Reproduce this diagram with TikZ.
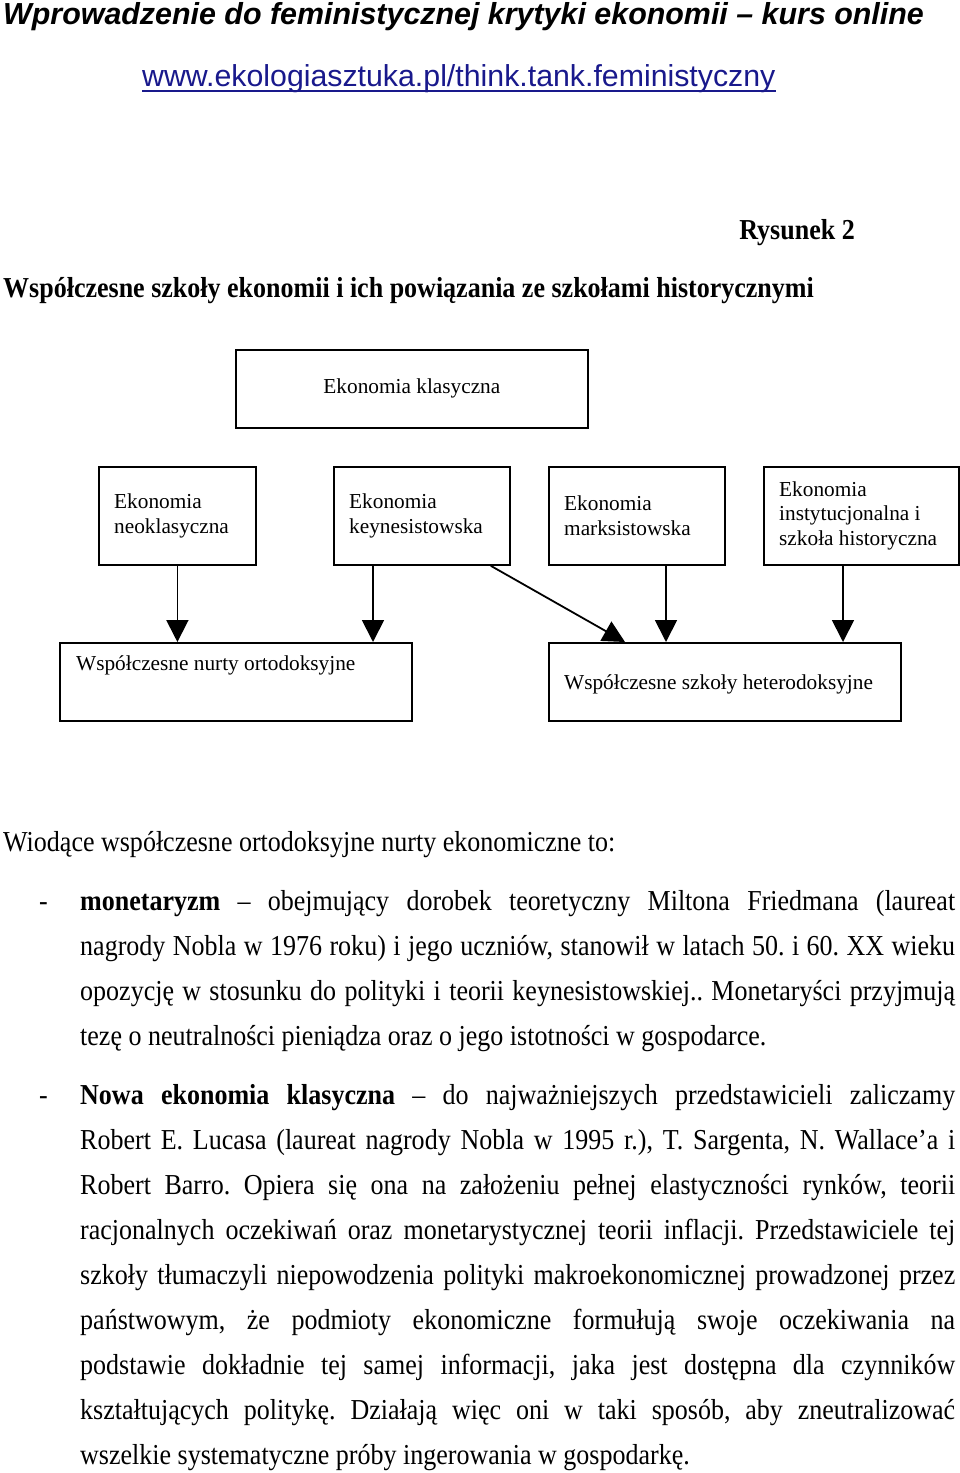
\documentclass[tikz,border=0pt]{standalone}
\usepackage{fontspec}
\setmainfont{Liberation Serif}
\newfontfamily\bodyfont[FakeStretch=0.9]{Liberation Serif}
\newfontfamily\headfont{Liberation Sans}
\usetikzlibrary{arrows.meta,calc}
\definecolor{urlblue}{RGB}{25,25,140}
\frenchspacing
\newcommand\jline[1]{\makebox[875pt][s]{#1}}
\tikzset{
  box/.style={draw, line width=1.8pt, inner sep=0pt, anchor=north west},
  boxtext/.style={font=\fontsize{21.3}{25}\selectfont, inner sep=0pt, align=left},
  arr/.style={line width=1.8pt, -{Triangle[length=22pt,width=22pt]}},
  body/.style={font=\bodyfont\frenchspacing\fontsize{28.9}{45}\selectfont, inner sep=0pt, anchor=base west},
  head/.style={font=\headfont\fontsize{30.3}{36}\selectfont, inner sep=0pt, anchor=base west},
}
\begin{document}
\begin{tikzpicture}[x=1pt,y=-1pt]
\useasboundingbox (0,0) rectangle (960,1473);
\fill[white] (0,0) rectangle (960,1473);

% header
\node[head, font=\headfont\bfseries\itshape\fontsize{30.4}{36}\selectfont] (title) at (3,24)
  {Wprowadzenie do feministycznej krytyki ekonomii – kurs online};
\node[head, text=urlblue] (url) at (142,86) {www.ekologiasztuka.pl/think.tank.feministyczny};
\draw[urlblue, line width=1.8pt] ($(url.base west)+(0,5)$) -- ($(url.base east)+(0,5)$);

\node[body, anchor=base east, font=\bodyfont\bfseries\fontsize{28.9}{34}\selectfont] (rys) at (855,239) {Rysunek 2};
\node[body, font=\bodyfont\bfseries\fontsize{28.9}{34}\selectfont] (sub) at (3,297)
  {Współczesne szkoły ekonomii i ich powiązania ze szkołami historycznymi};

% diagram
\node[box, minimum width=352pt, minimum height=78pt, font=\fontsize{21.3}{25}\selectfont] (klas) at (235,349) {Ekonomia klasyczna};

\node[box, minimum width=157pt, minimum height=98pt] (neo) at (98,466) {};
\node[boxtext, anchor=west] (neotxt) at ($(neo.west)+(16,0)$) {Ekonomia\\neoklasyczna};

\node[box, minimum width=176pt, minimum height=98pt] (keyn) at (333,466) {};
\node[boxtext, anchor=west] (keyntxt) at ($(keyn.west)+(16,0)$) {Ekonomia\\keynesistowska};

\node[box, minimum width=176pt, minimum height=98pt] (marks) at (548,466) {};
\node[boxtext, anchor=west] (markstxt) at ($(marks.west)+(16,0)$) {Ekonomia\\marksistowska};

\node[box, minimum width=195pt, minimum height=98pt] (inst) at (763,466) {};
\node[boxtext, anchor=west] (insttxt) at ($(inst.west)+(16,0)$) {Ekonomia\\instytucjonalna i\\szkoła historyczna};

\node[box, minimum width=352pt, minimum height=78pt] (orto) at (59,642) {};
\node[boxtext, anchor=base west] (ortotxt) at ($(orto.north west)+(17,28)$) {Współczesne nurty ortodoksyjne};

\node[box, minimum width=352pt, minimum height=78pt] (het) at (548,642) {};
\node[boxtext, anchor=west] (hettxt) at ($(het.west)+(16,2)$) {Współczesne szkoły heterodoksyjne};

\coordinate (xk) at (373,0);
\coordinate (xm) at (666,0);
\coordinate (xi) at (843,0);
\draw[arr] (neo.south) -- (orto.north -| neo.south);
\draw[arr] (keyn.south -| xk) -- (orto.north -| xk);
\draw[arr] ($(keyn.south east)+(-20,0)$) -- ($(het.north west)+(77,0)$);
\draw[arr] (marks.south -| xm) -- (het.north -| xm);
\draw[arr] (inst.south -| xi) -- (het.north -| xi);

% body text
\node[body] (intro) at (3,851.5) {Wiodące współczesne ortodoksyjne nurty ekonomiczne to:};

\node[body] (b1) at (39,910) {-};
\node[body] (a1) at (80,910) {\jline{\textbf{monetaryzm} – obejmujący dorobek teoretyczny Miltona Friedmana (laureat}};
\node[body] (a2) at (80,955.5) {\jline{nagrody Nobla w 1976 roku) i jego uczniów, stanowił w latach 50. i 60. XX wieku}};
\node[body] (a3) at (80,1000.5) {\jline{opozycję w stosunku do polityki i teorii keynesistowskiej.. Monetaryści przyjmują}};
\node[body] (a4) at (80,1045.5) {tezę o neutralności pieniądza oraz o jego istotności w gospodarce.};

\node[body] (b2) at (39,1104) {-};
\node[body] (c1) at (80,1104) {\jline{\textbf{Nowa ekonomia klasyczna} – do najważniejszych przedstawicieli zaliczamy}};
\node[body] (c2) at (80,1149.5) {\jline{Robert E. Lucasa (laureat nagrody Nobla w 1995 r.), T. Sargenta, N. Wallace’a i}};
\node[body] (c3) at (80,1194.5) {\jline{Robert Barro. Opiera się ona na założeniu pełnej elastyczności rynków, teorii}};
\node[body] (c4) at (80,1239.5) {\jline{racjonalnych oczekiwań oraz monetarystycznej teorii inflacji. Przedstawiciele tej}};
\node[body] (c5) at (80,1284.5) {\jline{szkoły tłumaczyli niepowodzenia polityki makroekonomicznej prowadzonej przez}};
\node[body] (c6) at (80,1329.5) {\jline{państwowym, że podmioty ekonomiczne formułują swoje oczekiwania na}};
\node[body] (c7) at (80,1374.5) {\jline{podstawie dokładnie tej samej informacji, jaka jest dostępna dla czynników}};
\node[body] (c8) at (80,1419.5) {\jline{kształtujących politykę. Działają więc oni w taki sposób, aby zneutralizować}};
\node[body] (c9) at (80,1464.5) {wszelkie systematyczne próby ingerowania w gospodarkę.};
\end{tikzpicture}
\end{document}
